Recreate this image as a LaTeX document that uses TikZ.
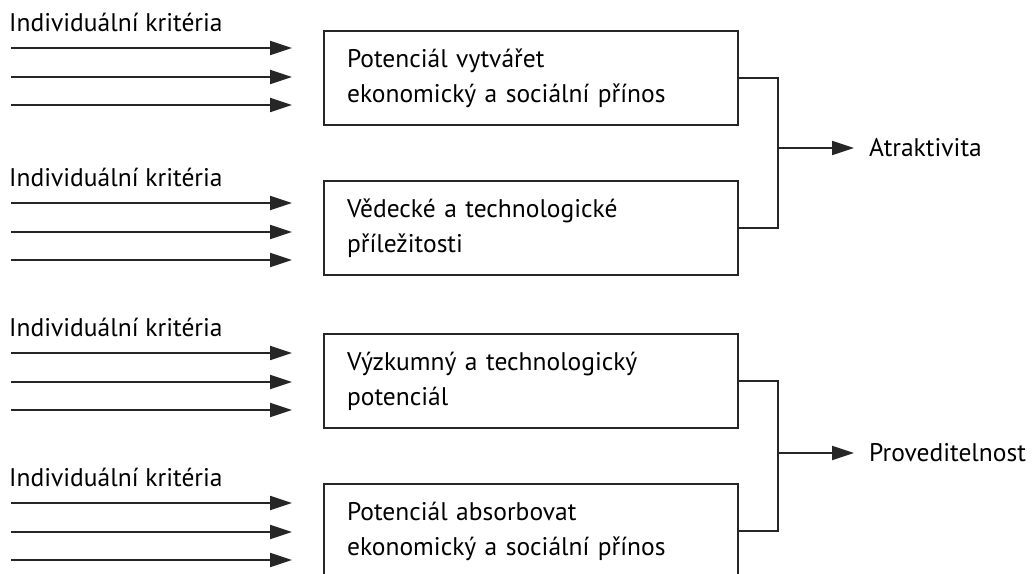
\documentclass[tikz,border=0pt]{standalone}
\usepackage{fontspec}
\setmainfont{PT Sans}
\usepackage{tikz}
\usetikzlibrary{arrows.meta,positioning,calc}

\begin{document}
\begin{tikzpicture}[
  x=1pt, y=-1pt,
  txt/.style={font=\fontsize{25.5}{35}\selectfont, inner sep=0pt, anchor=west},
  crit/.style={draw=black!85, line width=2.1pt, anchor=north west, minimum width=413pt, minimum height=94pt,
    text width=368pt, inner xsep=23pt, align=left, font=\fontsize{25.5}{35}\selectfont},
  arr/.style={-{Triangle[length=22pt, width=14pt]}, line width=2.1pt, draw=black!85},
  brace/.style={line width=2.1pt, draw=black!85}
]
\useasboundingbox (0,0) rectangle (1033,573);
% four groups of criteria
\node[txt] (ind1) at (9,22) {Individuální kritéria};
\node[txt] (ind2) at (9,177) {Individuální kritéria};
\node[txt] (ind3) at (9,327) {Individuální kritéria};
\node[txt] (ind4) at (9,477) {Individuální kritéria};
\foreach \g in {1,2,3,4}{
  \foreach \k/\dy in {1/26,2/55,3/83}{
    \coordinate (s\g\k) at ($(ind\g.west)+(2,\dy)$);
    \coordinate (e\g\k) at ($(ind\g.west)+(283,\dy)$);
    \draw[arr] (s\g\k) -- (e\g\k);
  }
}
% boxes
\node[crit] (pot) at (323,30) {Potenciál vytvářet\\ekonomický a sociální přínos};
\node[crit] (ved) at (323,180) {Vědecké a technologické\\příležitosti};
\node[crit] (vyz) at (323,333) {Výzkumný a technologický\\potenciál};
\node[crit] (abs) at (323,483) {Potenciál absorbovat\\ekonomický a sociální přínos};
% results
\node[txt] (atr) at (869,148) {Atraktivita};
\node[txt] (pro) at (869,453) {Proveditelnost};
\coordinate (j1) at (778,148);
\coordinate (j2) at (778,453);
\draw[brace] (pot.east) -| (j1) |- (ved.east);
\draw[brace] (vyz.east) -| (j2) |- (abs.east);
\draw[arr, shorten >=15pt] (j1) -- (atr.west);
\draw[arr, shorten >=15pt] (j2) -- (pro.west);
\end{tikzpicture}
\end{document}
